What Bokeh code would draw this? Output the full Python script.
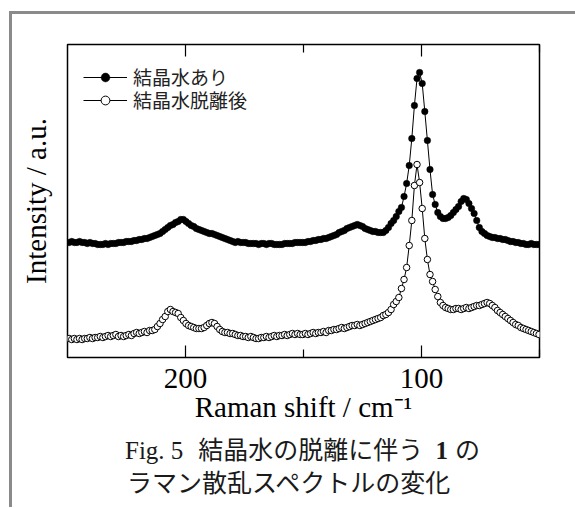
from bokeh.plotting import figure
from bokeh.layouts import column, row
from bokeh.models import Range1d, LinearAxis, FixedTicker, Legend, LegendItem, Div
from bokeh.embed import file_html
from bokeh.resources import INLINE

# ---------------- data ----------------
# Raman shift sampling grid (cm^-1), high to low
wavenumber = [round(249.3 - 1.1 * i, 2) for i in range(182)]

# 結晶水あり (hydrated), arbitrary units
intensity_hydrated = [
    115, 116, 115, 115, 116, 115, 115, 114, 115, 114, 114, 113, 113, 113, 114, 113, 114, 114, 114, 115,
    115, 115, 116, 116, 116, 117, 117, 118,
    118, 119, 119, 120, 121, 122, 123, 124, 126, 128, 130, 132, 133, 135, 136, 138, 138, 136, 134, 132,
    131, 129, 128, 127, 126, 125, 124, 124, 123, 122, 121, 120, 119, 118, 117, 116, 115,
    116, 115, 115, 115, 114, 114, 114, 114, 113, 114, 114, 113, 114, 114, 113, 113, 113, 113, 114, 114,
    114, 114, 115, 115, 115, 115, 115, 116, 116, 117, 117, 118, 118, 119, 119, 120, 121, 122, 123, 125,
    126, 127, 129, 130, 131, 132, 133, 132, 131, 129, 128, 127, 126, 126, 125, 125, 125, 127, 130, 134,
    137, 141, 146,
    150, 161, 174, 192, 219, 252, 279, 285, 274, 246, 217, 188, 163, 153, 145, 141, 139, 139, 140, 142,
    145, 148, 151, 156, 159, 158, 154, 149, 144, 137, 130, 126, 124, 122, 121, 120, 120, 119, 119, 118,
    118, 117, 116, 116, 115, 115, 114, 114, 113, 113, 114, 113, 113, 113,
]

# 結晶水脱離後 (dehydrated), arbitrary units
intensity_dehydrated = [
    19, 18, 19, 18, 19, 18, 19, 19, 20, 19, 20, 20, 21, 20, 21, 22, 21, 22, 23, 21,
    22, 21, 22, 23, 22, 24, 25, 24, 25, 26, 25, 27, 27, 28,
    31, 34, 38, 41, 46, 48, 46, 45, 44, 40, 37, 34, 32, 31, 30, 29, 29, 29, 30, 32,
    34, 35, 34, 31, 28, 26, 25,
    25, 24, 24, 23, 22, 22, 21, 21, 20, 21, 20, 19, 19, 20, 20, 21, 20, 21, 22, 21,
    22, 22, 23, 22, 23, 24, 23, 24, 23, 23, 24, 23, 24, 25, 24, 25, 25, 26, 25, 27,
    27, 28, 28, 29, 30, 29, 30, 31, 32, 32, 33,
    32, 33, 34, 35, 36, 37, 38, 39, 40, 42, 43, 45, 48, 53, 56, 60, 69, 78, 90, 112,
    137, 172, 193, 175, 149, 119, 98, 83, 76, 68, 61, 55, 52, 50, 49, 48, 48, 49, 49, 48,
    49, 50, 49, 50, 51, 52, 52, 53, 54, 55, 54, 52, 50, 47, 45, 43, 41, 39, 37, 35,
    33, 32, 30, 29, 28, 27, 26, 25, 24, 23,
]

x_major_ticks = [200, 100]
x_minor_ticks = [150, 50]
x_tick_labels = {200: "200", 100: "100"}
series_names = ["結晶水あり", "結晶水脱離後"]
x_label = "Raman shift / cm⁻¹"
y_label = "Intensity / a.u."
caption_1 = ["Fig. 5", "結晶水の脱離に伴う", "1", "の"]
caption_2 = "ラマン散乱スペクトルの変化"

# ---------------- layout ----------------
GRAY = "#8a8a8a"
W, H = 562, 411                 # figure canvas (starts at page x=12, y=14)
FL, FR, FT, FB = 55, 527, 30, 343   # frame edges inside the canvas

p = figure(width=W, height=H, output_backend="svg", toolbar_location=None,
           x_range=Range1d(250, 50), y_range=Range1d(0, 313),
           x_axis_location=None, y_axis_location=None,
           min_border_left=FL, min_border_right=W - FR,
           min_border_top=FT, min_border_bottom=H - FB, margin=(0, 0, 0, 0))
p.outline_line_color = "black"
p.outline_line_width = 1.5
p.background_fill_color = "white"
p.border_fill_color = "white"
p.xgrid.visible = False
p.ygrid.visible = False

ticker = FixedTicker(ticks=x_major_ticks, minor_ticks=x_minor_ticks)


def style_axis(ax):
    ax.axis_line_color = None
    ax.major_tick_in = 12
    ax.major_tick_out = 0
    ax.minor_tick_in = 8
    ax.minor_tick_out = 0
    ax.major_tick_line_width = 1.2
    ax.minor_tick_line_width = 1.2
    ax.major_tick_line_color = "black"
    ax.minor_tick_line_color = "black"


xb = LinearAxis(ticker=ticker, major_label_overrides=x_tick_labels)
style_axis(xb)
xb.major_label_text_font = "Liberation Serif"
xb.major_label_text_font_size = "29px"
xb.major_label_text_color = "black"
xb.major_label_standoff = 11
xb.axis_label = x_label
xb.axis_label_text_font = "Liberation Serif"
xb.axis_label_text_font_size = "29px"
xb.axis_label_text_font_style = "normal"
xb.axis_label_text_color = "black"
xb.axis_label_standoff = 0
p.add_layout(xb, "below")

xt = LinearAxis(ticker=ticker, major_label_overrides={k: "" for k in x_tick_labels})
style_axis(xt)
xt.major_label_text_font_size = "1px"
p.add_layout(xt, "above")

yl = LinearAxis(ticker=FixedTicker(ticks=[]))
yl.axis_line_color = None
yl.major_tick_line_color = None
yl.minor_tick_line_color = None
yl.major_label_text_font_size = "1px"
yl.axis_label = y_label
yl.axis_label_text_font = "Liberation Serif"
yl.axis_label_text_font_size = "29px"
yl.axis_label_text_font_style = "normal"
yl.axis_label_text_color = "black"
yl.axis_label_standoff = 16
p.add_layout(yl, "left")

# ---------------- data marks ----------------
lb = p.line(wavenumber, intensity_dehydrated, line_color="black", line_width=1)
sb = p.scatter(wavenumber, intensity_dehydrated, marker="circle", size=6.5,
               fill_color="white", line_color="black", line_width=1)
la = p.line(wavenumber, intensity_hydrated, line_color="black", line_width=1)
sa = p.scatter(wavenumber, intensity_hydrated, marker="circle", size=6.5,
               fill_color="black", line_color="black", line_width=0.5)


# ---------------- legends ----------------
def make_legend(name, rends, loc):
    lg = Legend(items=[LegendItem(label=name, renderers=rends)], location=loc)
    lg.glyph_width = 44
    lg.glyph_height = 22
    lg.label_height = 22
    lg.label_standoff = 6
    lg.label_text_font = "Noto Sans CJK JP"
    lg.label_text_font_size = "19px"
    lg.label_text_color = "#222222"
    lg.padding = 0
    lg.margin = 0
    lg.spacing = 0
    lg.border_line_color = None
    lg.background_fill_alpha = 0
    return lg


p.add_layout(make_legend(series_names[0], [la, sa], (16, 267)))
p.add_layout(make_legend(series_names[1], [lb, sb], (16, 244)))

# ---------------- caption ----------------
serif = "font-family:'Liberation Serif',serif;"
cjk = "font-family:'Noto Sans CJK JP',sans-serif;"
caption_html = (
    '<div style="font-size:25px;line-height:31px;color:#1a1a1a;padding-top:8px;white-space:nowrap;">'
    f'<div style="margin-left:113px;"><span style="{serif}">{caption_1[0]}</span>'
    f'<span style="{cjk}margin-left:15px;">{caption_1[1]}</span>'
    f'<span style="{serif}font-weight:bold;margin-left:12px;">{caption_1[2]}</span>'
    f'<span style="{cjk}margin-left:7px;">{caption_1[3]}</span></div>'
    f'<div style="margin-left:115px;{cjk}">{caption_2}</div>'
    '</div>'
)
caption = Div(text=caption_html, width=W, height=80, margin=(0, 0, 0, 0))

# gray page frame (top and left bars)
top_bar = Div(text="", width=566, height=3, margin=(11, 0, 0, 9),
              styles={"background-color": GRAY})
left_bar = Div(text="", width=3, height=493, margin=(0, 0, 0, 0),
               styles={"background-color": GRAY})

layout = column(top_bar,
                row(left_bar, column(p, caption, spacing=0, margin=(0, 0, 0, 0)),
                    spacing=0, margin=(0, 0, 0, 9)),
                spacing=0, margin=(0, 0, 0, 0))

open("out.html", "w").write(file_html(layout, INLINE))
